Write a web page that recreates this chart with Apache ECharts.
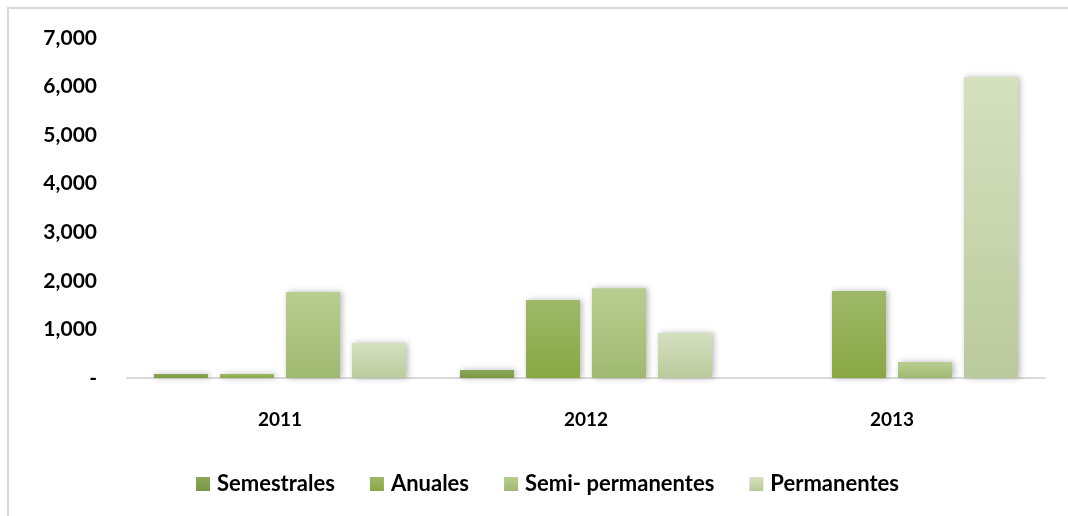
<!DOCTYPE html>
<html>
<head>
<meta charset="utf-8">
<style>
  html, body { margin: 0; padding: 0; background: #ffffff; }
  #chart { width: 1068px; height: 516px; }
</style>
<script src="https://cdn.jsdelivr.net/npm/echarts@6/dist/echarts.min.js"></script>
</head>
<body>
<div id="chart"></div>
<script>
// Years on the category axis
const years = ['2011', '2012', '2013'];

// One array per series
const semestrales = [80, 165, 0];
const anuales = [80, 1605, 1790];
const semiPermanentes = [1770, 1850, 330];
const permanentes = [720, 925, 6190];

const seriesNames = ['Semestrales', 'Anuales', 'Semi- permanentes', 'Permanentes'];

// Top / bottom colours of each series gradient
const gradients = [
  ['#8ba65b', '#7a9944'],
  ['#9eb869', '#88a843'],
  ['#b8ce91', '#a0b971'],
  ['#d5e0bf', '#bbca9c']
];

const FONT = 'Lato, "DejaVu Sans", sans-serif';

function grad(pair) {
  return new echarts.graphic.LinearGradient(0, 0, 0, 1, [
    { offset: 0, color: pair[0] },
    { offset: 1, color: pair[1] }
  ]);
}

function makeSeries(name, data, idx) {
  return {
    name: name,
    type: 'bar',
    data: data,
    barGap: '22%',
    barCategoryGap: '17.6%',
    itemStyle: {
      color: grad(gradients[idx]),
      shadowColor: 'rgba(0,0,0,0.28)',
      shadowBlur: 6,
      shadowOffsetX: 2,
      shadowOffsetY: 0
    }
  };
}

const chart = echarts.init(document.getElementById('chart'), null, { renderer: 'canvas' });

chart.setOption({
  animation: false,
  backgroundColor: '#ffffff',
  graphic: [
    {
      type: 'rect',
      silent: true,
      shape: { x: 8, y: 8, width: 1200, height: 700 },
      style: { fill: 'none', stroke: '#d9d9d9', lineWidth: 2 }
    }
  ],
  grid: { left: 127, right: 23, top: 38, bottom: 138 },
  legend: {
    left: 196,
    top: 473,
    padding: 0,
    itemWidth: 14,
    itemHeight: 14,
    itemGap: 35,
    icon: 'rect',
    textStyle: {
      fontFamily: FONT, fontWeight: 'bold', fontSize: 22, lineHeight: 22,
      color: '#000000', padding: [0, 0, 0, 2]
    },
    data: seriesNames
  },
  xAxis: {
    type: 'category',
    data: years,
    axisLine: { lineStyle: { color: '#d9d9d9', width: 2 } },
    axisTick: { show: false },
    axisLabel: {
      margin: 32,
      fontFamily: FONT, fontWeight: 'bold', fontSize: 19, color: '#000000'
    }
  },
  yAxis: {
    type: 'value',
    min: 0,
    max: 7000,
    interval: 1000,
    splitLine: { show: false },
    axisLine: { show: false },
    axisTick: { show: false },
    axisLabel: {
      margin: 30,
      fontFamily: FONT, fontWeight: 'bold', fontSize: 21, color: '#000000',
      formatter: function (v) {
        return v === 0 ? '-' : v.toLocaleString('en-US');
      }
    }
  },
  series: [
    makeSeries(seriesNames[0], semestrales, 0),
    makeSeries(seriesNames[1], anuales, 1),
    makeSeries(seriesNames[2], semiPermanentes, 2),
    makeSeries(seriesNames[3], permanentes, 3)
  ]
});
</script>
</body>
</html>
